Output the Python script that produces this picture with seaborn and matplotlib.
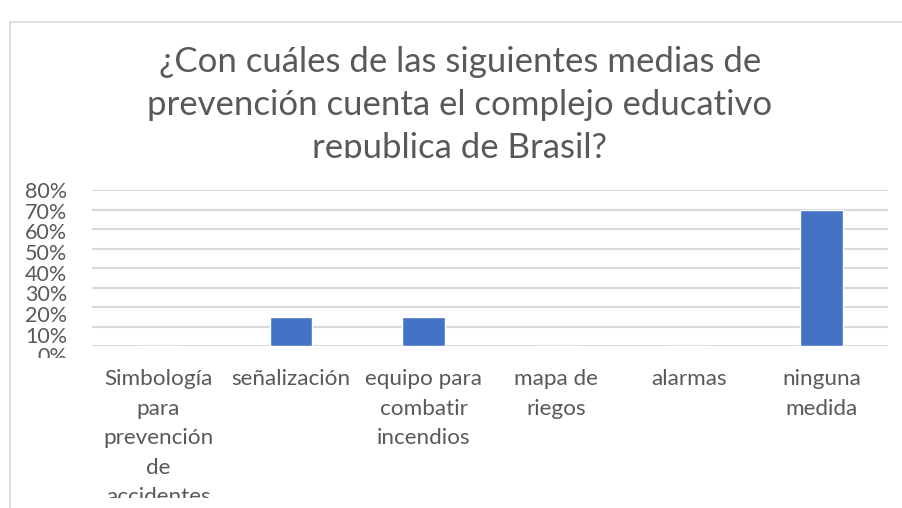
import matplotlib.pyplot as plt
import seaborn as sns
from matplotlib.lines import Line2D
from matplotlib.transforms import Bbox, ScaledTranslation

# data
categories = [
    "Simbología\npara\nprevención\nde\naccidentes",
    "señalización",
    "equipo para\ncombatir\nincendios",
    "mapa de\nriegos",
    "alarmas",
    "ninguna\nmedida",
]
values = [0.0, 0.15, 0.15, 0.0, 0.0, 0.70]
y_ticks = [0.0, 0.1, 0.2, 0.3, 0.4, 0.5, 0.6, 0.7, 0.8]
y_labels = ["0%", "10%", "20%", "30%", "40%", "50%", "60%", "70%", "80%"]
title_lines = [
    "¿Con cuáles de las siguientes medias de",
    "prevención cuenta el complejo educativo",
    "republica de Brasil?",
]

sns.set_theme(style="white")
plt.rcParams["font.family"] = ["Lato", "DejaVu Sans"]

text_color = "#595959"
W, H = 903, 508

fig = plt.figure(figsize=(W / 100, H / 100), dpi=100)
ax = fig.add_axes([92 / W, 1 - 346 / H, (888 - 92) / W, (346 - 190) / H])

sns.barplot(x=categories, y=values, color="#4472C4", width=0.32,
            saturation=1, ax=ax)

ax.set_ylim(0, 0.8)
ax.set_xlim(-0.5, len(categories) - 0.5)
ax.set_yticks(y_ticks)
ax.set_yticklabels(y_labels)
ax.yaxis.grid(True, color="#D9D9D9", linewidth=1.5)
ax.set_axisbelow(True)
for s in ax.spines.values():
    s.set_visible(False)
ax.set_xlabel("")
ax.set_ylabel("")
ax.tick_params(axis="y", length=0, pad=18, labelsize=15.5, labelcolor=text_color)
ax.tick_params(axis="x", length=0, pad=16.5, labelsize=16.2, labelcolor=text_color)
for lab in ax.get_xticklabels():
    lab.set_linespacing(1.6)
    lab.set_verticalalignment("top")

# y labels are spaced a bit wider than the gridlines in the original
n = len(y_labels)
for i, lab in enumerate(ax.get_yticklabels()):
    shift = -(n - 1 - i) * 1.15 / 100
    lab.set_transform(lab.get_transform() + ScaledTranslation(0, shift, fig.dpi_scale_trans))

# clipped text like the original
for lab in ax.get_xticklabels():
    lab.set_clip_on(True)
    lab.set_clip_box(Bbox([[0, H - 498], [W, H]]))
zero = ax.get_yticklabels()[0]
zero.set_clip_on(True)
zero.set_clip_box(Bbox([[0, H - 358], [W, H]]))

# title
for i, line in enumerate(title_lines):
    t = fig.text(460 / W, 1 - (72 + i * 43) / H, line, ha="center", va="baseline",
                 fontsize=25, color=text_color)
    if i == len(title_lines) - 1:
        t.set_clip_on(True)
        t.set_clip_box(Bbox([[0, H - 158], [W, H]]))

# chart border
fig.add_artist(Line2D([10 / W, 10 / W], [0, 1 - 22 / H], color="#D9D9D9", lw=1.2))
fig.add_artist(Line2D([10 / W, 1], [1 - 22 / H, 1 - 22 / H], color="#D9D9D9", lw=1.2))

plt.savefig("out.png", dpi=100)
